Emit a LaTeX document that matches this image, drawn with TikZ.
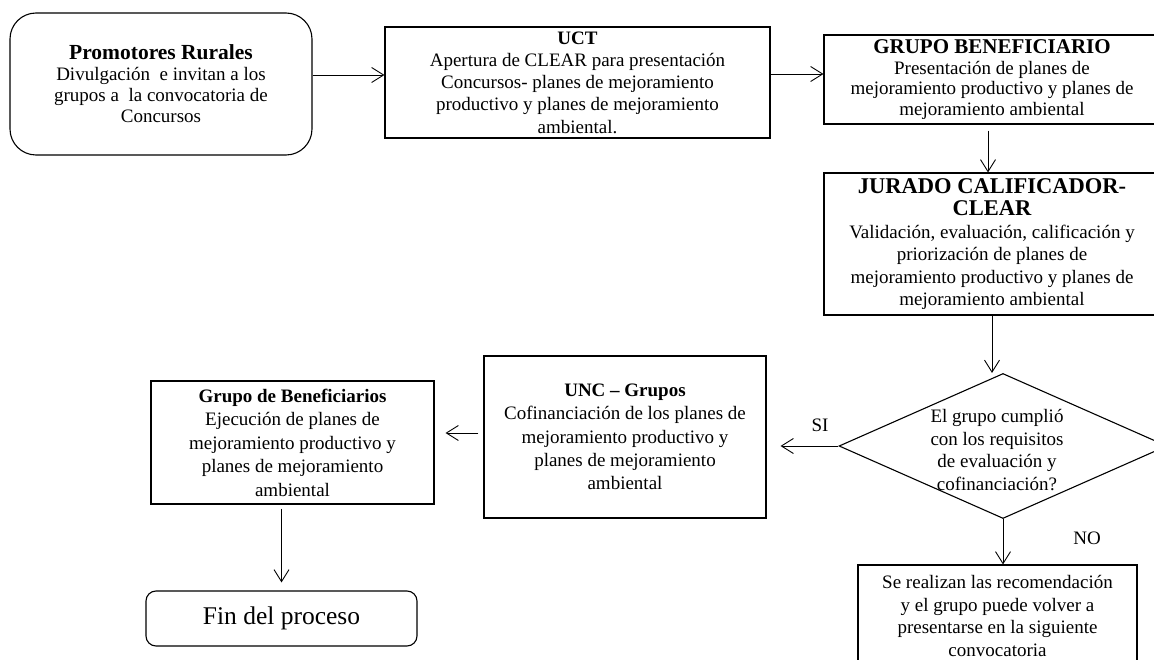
\documentclass[tikz,border=0pt]{standalone}
\usepackage{fontspec}
\setmainfont{Liberation Serif}
\usetikzlibrary{arrows.meta,calc,positioning,shapes.geometric}

\begin{document}
\begin{tikzpicture}[x=1pt,y=-1pt,
    caja/.style={draw,line width=1.1pt,align=center,inner sep=0pt},
    redonda/.style={caja,rounded corners=#1},
    decision/.style={draw,diamond,line width=1.1pt,inner sep=0pt,
        minimum width=328pt,minimum height=145pt},
    texto/.style={align=center,inner sep=0pt,font=\fontsize{19}{22.7}\selectfont},
    flecha/.style={line width=0.9pt,-{Straight Barb[length=12pt,width=15pt]}}]
    \useasboundingbox (0,0) rectangle (1154,660);

    % ---- Fila superior ----
    \node[redonda=26pt,minimum width=302pt,minimum height=142pt,
        font=\fontsize{19}{21}\selectfont] (prom) at (161,84)
        {{\fontsize{21.5}{24}\selectfont\bfseries Promotores Rurales}\\
         Divulgación\ \ e invitan a los\\grupos a\ \ la convocatoria de\\Concursos};
    \node[caja,minimum width=385pt,minimum height=111pt,
        font=\fontsize{19}{22.3}\selectfont] (uct) at (577.5,82.5)
        {{\bfseries UCT}\\Apertura de CLEAR para presentación\\
         Concursos- planes de mejoramiento\\productivo y planes de mejoramiento\\ambiental.};
    \node[caja,minimum width=336pt,minimum height=89pt,
        font=\fontsize{19}{20.5}\selectfont] (gru) at (992,79.5)
        {{\fontsize{21}{23}\selectfont\bfseries GRUPO BENEFICIARIO}\\
         Presentación de planes de\\mejoramiento productivo y planes de\\mejoramiento ambiental};

    % ---- Columna derecha ----
    \node[caja,minimum width=336pt,minimum height=142pt,
        font=\fontsize{19}{22.4}\selectfont] (jur) at (992,244)
        {{\fontsize{22.5}{24}\selectfont\bfseries JURADO CALIFICADOR-}\\
         {\fontsize{22.5}{24}\selectfont\bfseries CLEAR}\\
         Validación, evaluación, calificación y\\priorización de planes de\\
         mejoramiento productivo y planes de\\mejoramiento ambiental};
    \node[decision] (dec) at (1003,446) {};
    \node[texto] (dectxt) at ($(dec)+(-6,4)$)
        {El grupo cumplió\\con los requisitos\\de evaluación y\\cofinanciación?};
    \node[caja,minimum width=279pt,minimum height=102pt,
        font=\fontsize{19}{22.6}\selectfont] (rec) at (997.5,616)
        {Se realizan las recomendación\\y el grupo puede volver a\\
         presentarse en la siguiente\\convocatoria};

    % ---- Fila inferior ----
    \node[caja,minimum width=282pt,minimum height=162pt,
        font=\fontsize{19}{23.3}\selectfont] (unc) at (625,437)
        {{\bfseries UNC – Grupos}\\Cofinanciación de los planes de\\
         mejoramiento productivo y\\planes de mejoramiento\\ambiental};
    \node[caja,minimum width=283pt,minimum height=123pt,
        font=\fontsize{19}{23.5}\selectfont] (ben) at (292.5,442.5)
        {{\bfseries Grupo de Beneficiarios}\\Ejecución de planes de\\
         mejoramiento productivo y\\planes de mejoramiento\\ambiental};
    \node[redonda=10pt,minimum width=271pt,minimum height=55pt,
        font=\fontsize{25.5}{28}\selectfont] (fin) at (281.5,618.5) {Fin del proceso};

    % ---- Etiquetas ----
    \node[texto] (lblsi) at (820,425) {SI};
    \node[texto] (lblno) at (1087,538) {NO};

    % ---- Flechas ----
    \draw[flecha] ([yshift=9pt]prom.east) -- ([yshift=9pt]prom.east -| uct.west);
    \draw[flecha] ([yshift=5.5pt]gru.west -| uct.east) -- ([yshift=5.5pt]gru.west);
    \draw[flecha,shorten <=6pt] ([xshift=-4pt]gru.south) -- ([xshift=-4pt]jur.north);
    \draw[flecha] (jur.south) -- (jur.south |- dec.north);
    \draw[flecha,shorten >=14pt] (dec.west) -- (dec.west -| unc.east);
    \draw[flecha,shorten <=5pt,shorten >=11pt] ([yshift=4pt]unc.west) -- ([yshift=4pt]unc.west -| ben.east);
    \draw[flecha,shorten <=4pt,shorten >=8pt] (fin.north |- ben.south) -- (fin.north);
    \draw[flecha] (dec.south) -- (dec.south |- rec.north);

\end{tikzpicture}
\end{document}
